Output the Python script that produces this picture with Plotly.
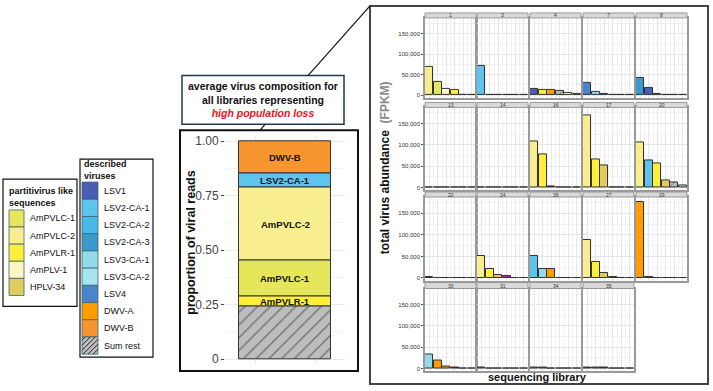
import plotly.graph_objects as go

W, H = 713, 391
def px(x): return x / W
def py(y): return 1 - y / H

FONT = "Liberation Sans, Arial, sans-serif"

# ---------------- data ----------------
comp_labels = ["Sum rest", "AmPVLR-1", "AmPVLC-1", "AmPVLC-2", "LSV2-CA-1", "DWV-B"]
comp_values = [0.242, 0.047, 0.163, 0.335, 0.065, 0.148]

partiti_names = ["AmPVLC-1", "AmPVLC-2", "AmPVLR-1", "AmPLV-1", "HPLV-34"]
described_names = ["LSV1", "LSV2-CA-1", "LSV2-CA-2", "LSV2-CA-3", "LSV3-CA-1",
                   "LSV3-CA-2", "LSV4", "DWV-A", "DWV-B", "Sum rest"]

colors = {
    "AmPVLC-1": "#E6E65A", "AmPVLC-2": "#F8EE8F", "AmPVLR-1": "#FFEF3A",
    "AmPLV-1": "#FEF5C2", "HPLV-34": "#E2CB5E",
    "LSV1": "#4A5DB5", "LSV2-CA-1": "#5EC4EE", "LSV2-CA-2": "#48B8E6",
    "LSV2-CA-3": "#3A9ACB", "LSV3-CA-1": "#95DAEA", "LSV3-CA-2": "#A8E4F0",
    "LSV4": "#4A84CC", "DWV-A": "#FF9C00", "DWV-B": "#F7962E", "Sum rest": "#BDBDBD",
    "other": "#333333", "green": "#1B9E77", "lightgreen": "#A8E6C0",
    "purple": "#9933AA", "brown": "#A8621E", "pink": "#F4C2CF", "darkteal": "#2E5E7E",
}

lib_ids = [1, 3, 4, 7, 8, 13, 14, 16, 17, 20, 22, 24, 26, 27, 29, 30, 31, 34, 35]

viruses_1 = ["AmPVLC-2", "AmPVLC-1", "AmPLV-1", "AmPVLR-1", "other", "other"]
values_1 = [69000, 32000, 14500, 12000, 600, 400]
viruses_3 = ["LSV2-CA-1", "other", "other", "other", "other", "other"]
values_3 = [70500, 500, 400, 400, 300, 0]
viruses_4 = ["LSV1", "AmPVLR-1", "DWV-A", "Sum rest", "AmPLV-1", "HPLV-34"]
values_4 = [14600, 12000, 11400, 9800, 5700, 3300]
viruses_7 = ["LSV4", "LSV3-CA-1", "LSV1", "other", "other", "other"]
values_7 = [28500, 7300, 2500, 500, 500, 400]
viruses_8 = ["LSV2-CA-3", "LSV1", "brown", "green", "other", "other"]
values_8 = [41500, 17000, 3300, 1000, 500, 500]
viruses_13 = ["other", "other", "other", "lightgreen", "other", "other"]
values_13 = [1200, 900, 700, 400, 0, 800]
viruses_14 = ["other", "LSV3-CA-2", "other", "other", "other", "other"]
values_14 = [0, 300, 900, 0, 0, 0]
viruses_16 = ["AmPVLC-2", "AmPVLR-1", "other", "other", "other", "other"]
values_16 = [108000, 78000, 2000, 800, 0, 0]
viruses_17 = ["AmPVLC-2", "AmPVLR-1", "HPLV-34", "other", "other", "other"]
values_17 = [170000, 66600, 52500, 0, 800, 0]
viruses_20 = ["AmPVLC-2", "LSV2-CA-1", "AmPVLR-1", "HPLV-34", "Sum rest", "LSV3-CA-2"]
values_20 = [105600, 62700, 56000, 15700, 11000, 5600]
viruses_22 = ["LSV3-CA-2", "other", "other", "other", "other", "other"]
values_22 = [1500, 500, 500, 500, 500, 500]
viruses_24 = ["AmPVLC-2", "AmPVLR-1", "HPLV-34", "purple", "other", "other"]
values_24 = [51600, 21800, 7000, 3800, 400, 300]
viruses_26 = ["LSV2-CA-1", "LSV3-CA-1", "DWV-A", "other", "other", "other"]
values_26 = [50700, 21800, 21000, 300, 300, 300]
viruses_27 = ["AmPVLC-2", "AmPVLR-1", "HPLV-34", "brown", "other", "other"]
values_27 = [89000, 37500, 11700, 2500, 1000, 800]
viruses_29 = ["DWV-A", "other", "other", "other", "other", "other"]
values_29 = [176000, 1500, 500, 0, 0, 0]
viruses_30 = ["LSV3-CA-1", "DWV-A", "DWV-A", "other", "pink", "other"]
values_30 = [31900, 20000, 5700, 1500, 300, 300]
viruses_31 = ["brown", "LSV3-CA-2", "other", "other", "other", "pink"]
values_31 = [3500, 300, 1000, 0, 700, 300]
viruses_34 = ["LSV4", "brown", "other", "pink", "other", "other"]
values_34 = [2500, 3000, 1000, 300, 700, 700]
viruses_35 = ["darkteal", "brown", "other", "other", "other", "other"]
values_35 = [3000, 3000, 1500, 500, 500, 500]

panels = [
    (1, viruses_1, values_1), (3, viruses_3, values_3), (4, viruses_4, values_4),
    (7, viruses_7, values_7), (8, viruses_8, values_8), (13, viruses_13, values_13),
    (14, viruses_14, values_14), (16, viruses_16, values_16), (17, viruses_17, values_17),
    (20, viruses_20, values_20), (22, viruses_22, values_22), (24, viruses_24, values_24),
    (26, viruses_26, values_26), (27, viruses_27, values_27), (29, viruses_29, values_29),
    (30, viruses_30, values_30), (31, viruses_31, values_31), (34, viruses_34, values_34),
    (35, viruses_35, values_35),
]

y_ticks = [0, 50000, 100000, 150000]
y_tick_text = ["0", "50,000", "100,000", "150,000"]

# ---------------- figure ----------------
fig = go.Figure()
shapes = []
annotations = []


def note(x, y, text, size, color="#111", xanchor="center", yanchor="middle", **kw):
    d = dict(x=x, y=y, xref="paper", yref="paper", text=text, showarrow=False,
             xanchor=xanchor, yanchor=yanchor,
             font=dict(size=size, color=color, family=FONT))
    d.update(kw)
    annotations.append(d)


# stacked composition bar
base = 0.0
for lab, val in zip(comp_labels, comp_values):
    is_rest = lab == "Sum rest"
    fig.add_trace(go.Bar(
        x=[1], y=[val], base=[base], width=0.92, xaxis="x", yaxis="y",
        marker=dict(color=colors[lab], line=dict(color="#333333", width=1),
                    pattern=dict(shape="/" if is_rest else "", fgcolor="#222222",
                                 bgcolor=colors[lab], size=9, solidity=0.15)),
        showlegend=False, hoverinfo="skip"))
    if not is_rest:
        annotations.append(dict(x=1, y=base + val / 2, xref="x", yref="y", text=f"<b>{lab}</b>",
                                showarrow=False, xanchor="center", yanchor="middle",
                                font=dict(size=9.5, color="#111", family=FONT)))
    base += val

layout_axes = {}
layout_axes["xaxis"] = dict(domain=[px(225), px(345)], range=[0.4, 1.6], showticklabels=False,
                            showgrid=True, gridcolor="#EBEBEB", tickvals=[0.7, 1.3],
                            zeroline=False, ticks="")
layout_axes["yaxis"] = dict(domain=[py(366), py(135)], range=[-0.0274, 1.0274],
                            tickvals=[0, 0.25, 0.5, 0.75, 1.0],
                            ticktext=["0", "0.25", "0.50", "0.75", "1.00"],
                            tickfont=dict(size=12, color="#444", family=FONT),
                            ticks="outside", ticklen=3, tickcolor="#444",
                            showgrid=True, gridcolor="#EBEBEB", zeroline=False,
                            minor=dict(showgrid=True, gridcolor="#F3F3F3", dtick=0.125))

# facet panels
col_x = [425, 477, 530, 583, 636]
col_w = 51
row_plot = [(17, 97), (107, 190), (197, 281), (289, 372)]
row_strip = [(12, 17), (102, 107), (192, 197), (283, 289)]

for k, (lib, vir, vals) in enumerate(panels):
    r, c = divmod(k, 5)
    ax = k + 2
    x0 = col_x[c]
    x1 = x0 + col_w
    yt, yb = row_plot[r]
    fig.add_trace(go.Bar(
        x=list(range(1, len(vals) + 1)), y=vals, width=0.95,
        xaxis=f"x{ax}", yaxis=f"y{ax}",
        marker=dict(color=[colors[v] for v in vir],
                    line=dict(color="#333333", width=1),
                    pattern=dict(shape=["/" if v == "Sum rest" else "" for v in vir],
                                 fgcolor="#222222", bgcolor="#BDBDBD", size=5, solidity=0.2)),
        showlegend=False, hoverinfo="skip"))
    layout_axes[f"xaxis{ax}"] = dict(domain=[px(x0), px(x1)], range=[0.5, 6.5], anchor=f"y{ax}",
                                     showticklabels=False, ticks="", tickvals=[1, 2, 3, 4, 5, 6],
                                     showgrid=True, gridcolor="#E6E6E6", zeroline=False,
                                     minor=dict(showgrid=True, gridcolor="#F2F2F2", dtick=0.5, tick0=0.5),
                                     showline=True, mirror=True, linecolor="#9A9A9A", linewidth=1.5)
    layout_axes[f"yaxis{ax}"] = dict(domain=[py(yb), py(yt)], range=[-6000, 188000], anchor=f"x{ax}",
                                     tickvals=y_ticks, ticktext=y_tick_text,
                                     showticklabels=(c == 0),
                                     tickfont=dict(size=6, color="#333", family=FONT),
                                     ticks="outside" if c == 0 else "", ticklen=2, tickcolor="#555",
                                     showgrid=True, gridcolor="#E6E6E6", zeroline=False,
                                     minor=dict(showgrid=True, gridcolor="#F2F2F2", dtick=25000),
                                     showline=True, mirror=True, linecolor="#9A9A9A", linewidth=1.5)
    st, sb = row_strip[r]
    shapes.append(dict(type="rect", xref="paper", yref="paper", x0=px(x0), x1=px(x1),
                       y0=py(sb), y1=py(st), fillcolor="#D9D9D9",
                       line=dict(color="#9A9A9A", width=1)))
    note(px((x0 + x1) / 2), py((st + sb) / 2), str(lib), 5, color="#333")

# Right big box
shapes.append(dict(type="rect", xref="paper", yref="paper", x0=px(370), x1=px(708),
                   y0=py(385), y1=py(5), line=dict(color="#444", width=2)))
# stacked outer box
shapes.append(dict(type="rect", xref="paper", yref="paper", x0=px(180), x1=px(358),
                   y0=py(372), y1=py(130), line=dict(color="#111", width=2)))
# callout box
shapes.append(dict(type="rect", xref="paper", yref="paper", x0=px(182), x1=px(344),
                   y0=py(124), y1=py(75), line=dict(color="#1F3B4D", width=1.5)))
# connector lines
shapes.append(dict(type="line", xref="paper", yref="paper", x0=px(308), y0=py(75),
                   x1=px(370), y1=py(5), line=dict(color="#111", width=1.2)))
shapes.append(dict(type="line", xref="paper", yref="paper", x0=px(265), y0=py(124),
                   x1=px(260), y1=py(130), line=dict(color="#111", width=1.2)))

note(px(263), py(99.5),
     "<b>average virus composition for<br>all libraries representing<br>"
     "<span style='color:#E8141B'><i>high population loss</i></span></b>", 10.5, align="center")
note(px(191), py(243), "<b>proportion of viral reads</b>", 12.5, textangle=-90)
note(px(385), py(168), "<b>total virus abundance  <span style='color:#8A8A8A'>(FPKM)</span></b>",
     12, textangle=-90)
note(px(537), py(378), "<b>sequencing library</b>", 11)

# legend 1 (partitivirus)
shapes.append(dict(type="rect", xref="paper", yref="paper", x0=px(3), x1=px(77),
                   y0=py(307), y1=py(179), line=dict(color="#111", width=1.2)))
note(px(7), py(197), "<b>partitivirus like<br>sequences</b>", 9, xanchor="left", align="left")
sw_top = 210
sw_h = 17.2
for i, name in enumerate(partiti_names):
    y0 = sw_top + i * sw_h
    shapes.append(dict(type="rect", xref="paper", yref="paper", x0=px(9), x1=px(24),
                       y0=py(y0 + sw_h), y1=py(y0), fillcolor=colors[name],
                       line=dict(color="#3A6470", width=0.8)))
    note(px(28), py(y0 + sw_h / 2), name, 9, xanchor="left")

# legend 2 (described viruses)
shapes.append(dict(type="rect", xref="paper", yref="paper", x0=px(80), x1=px(153),
                   y0=py(358), y1=py(159), line=dict(color="#111", width=1.2)))
note(px(82), py(170), "<b>described<br>viruses</b>", 9, xanchor="left", align="left")
sw2_top = 182
sw2_h = 17.3
for i, name in enumerate(described_names):
    y0 = sw2_top + i * sw2_h
    shapes.append(dict(type="rect", xref="paper", yref="paper", x0=px(82), x1=px(98),
                       y0=py(y0 + sw2_h), y1=py(y0), fillcolor=colors[name],
                       line=dict(color="#3A6470", width=0.8)))
    if name == "Sum rest":
        xa, xb, ya, yb = 82, 98, y0, y0 + sw2_h
        for cst in range(int(xa + ya) + 4, int(xb + yb), 5):
            pts = []
            for xx in (xa, xb):
                yy = cst - xx
                if ya <= yy <= yb:
                    pts.append((xx, yy))
            for yy in (ya, yb):
                xx = cst - yy
                if xa <= xx <= xb:
                    pts.append((xx, yy))
            if len(pts) >= 2:
                p1, p2 = pts[0], pts[1]
                shapes.append(dict(type="line", xref="paper", yref="paper",
                                   x0=px(p1[0]), y0=py(p1[1]), x1=px(p2[0]), y1=py(p2[1]),
                                   line=dict(color="#222", width=1)))
    note(px(102), py(y0 + sw2_h / 2), name, 9, xanchor="left")

fig.update_layout(
    width=W, height=H, margin=dict(l=0, r=0, t=0, b=0),
    paper_bgcolor="white", plot_bgcolor="white",
    barmode="overlay", bargap=0,
    shapes=shapes, annotations=annotations,
    font=dict(family=FONT),
    **layout_axes,
)

fig.write_html("out.html")
